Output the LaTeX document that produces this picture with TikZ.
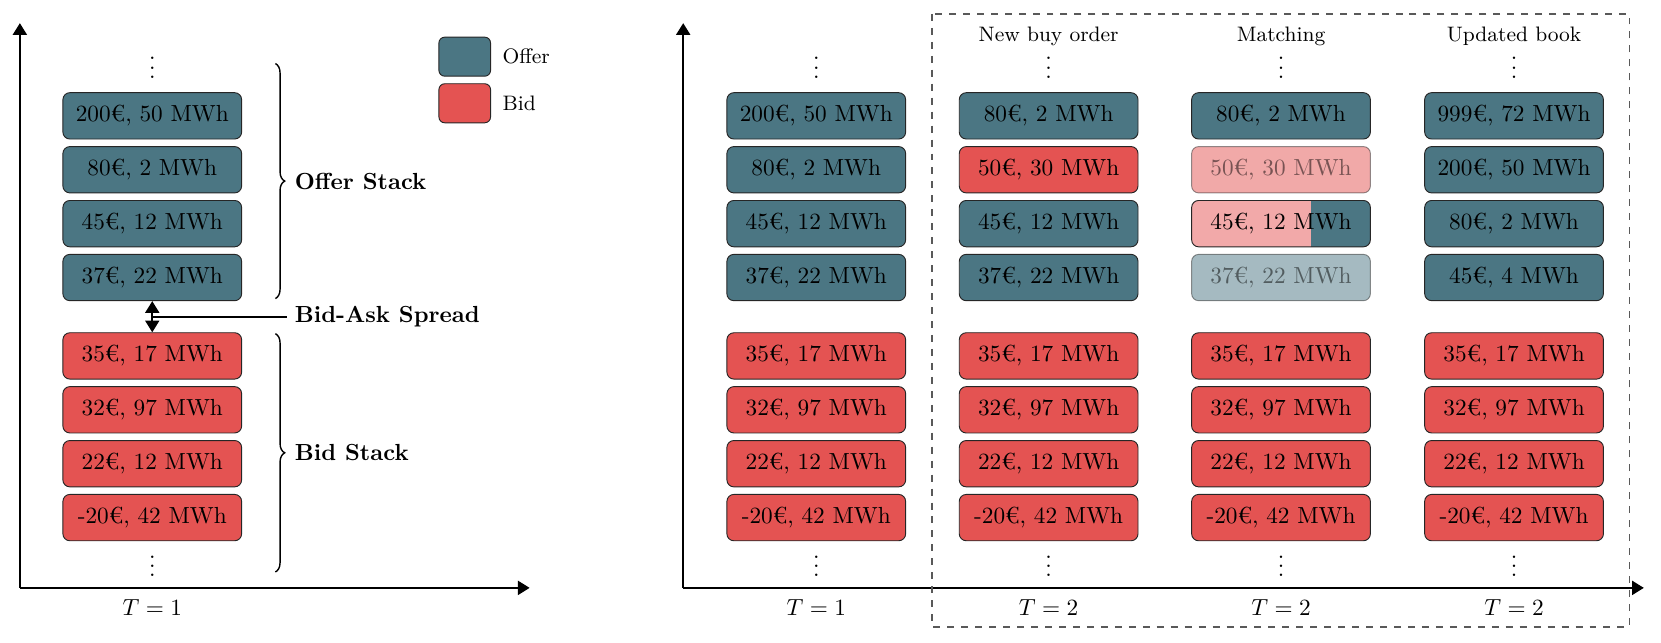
\documentclass[tikz,border=0pt]{standalone}
\usepackage{fontspec}
\usepackage{xcolor}
\usepackage{tikz}
\usetikzlibrary{arrows,arrows.meta,shapes,decorations.pathreplacing,positioning,calc}

\definecolor{offercol}{HTML}{4B7683}
\definecolor{bidcol}{HTML}{E45352}

\begin{document}
\begin{tikzpicture}
% STYLES
\tikzset{%
    order/.style={%
rectangle,
rounded corners=3pt,
draw=black!85,
inner sep=0pt,
minimum width=2.7cm,
minimum height=0.7cm
                          },
    offer/.style={order, fill=offercol},
    bid/.style={order, fill=bidcol},
    faded/.style={opacity=0.5},
    dots/.style={inner sep=0pt},
    header/.style={font=\small},
    stacklabel/.style={anchor=west, font=\bfseries},
    stackbrace/.style={decorate, decoration={brace, amplitude=4pt}, semithick},
    tip/.tip={Triangle[length=5pt, width=6pt]},
    axisline/.style={thick, -tip},
    legendbox/.style={order, rounded corners=2.5pt, minimum width=0.78cm, minimum height=0.59cm}
             }
\useasboundingbox (0,0) rectangle (25.09,-9.70);

% Left axes
\coordinate (o1) at (0.3,-8.88);
\coordinate (ytop1) at (0.3,-0.35);
\coordinate (xend1) at (8.0,-8.88);
\draw[axisline] (o1) -- (ytop1);
\draw[axisline] (o1) -- (xend1);

% Left book
\node [offer] (a1) at (2.3,-1.75) {200€, 50 MWh};
\node [offer, below=1mm of a1] (a2) {80€, 2 MWh};
\node [offer, below=1mm of a2] (a3) {45€, 12 MWh};
\node [offer, below=1mm of a3] (a4) {37€, 22 MWh};
\node [dots, above=2mm of a1] (ad) {$\vdots$};
\node [bid, below=4.7mm of a4] (b1) {35€, 17 MWh};
\node [bid, below=1mm of b1] (b2) {32€, 97 MWh};
\node [bid, below=1mm of b2] (b3) {22€, 12 MWh};
\node [bid, below=1mm of b3] (b4) {-20€, 42 MWh};
\node [dots, below=0mm of b4] (bd) {$\vdots$};
\node (t1) at (2.3,-9.17) {$T=1$};

% Stacks and spread
\draw[stackbrace] (4.16,-0.96) -- (4.16,-4.51);
\draw[stackbrace] (4.16,-5.04) -- (4.16,-8.64);
\node [stacklabel] (offerstack) at (4.33,-2.74) {Offer Stack};
\node [stacklabel] (bidstack) at (4.33,-6.84) {Bid Stack};
\coordinate (sp) at ($(a4.south)!0.5!(b1.north)$);
\node [stacklabel] (spread) at (sp -| 4.33,0) {Bid-Ask Spread};
\draw[tip-tip, thick] (a4.south) -- (b1.north);
\draw[thick] (sp) -- (spread.west);

% Legend
\node [legendbox, fill=offercol] (lo) at (7.02,-0.856) {};
\node [legendbox, fill=bidcol] (lb) at (7.02,-1.56) {};
\node [right=0.5mm of lo, font=\small] (loffer) {Offer};
\node [right=0.5mm of lb, font=\small] (lbid) {Bid};

% Right axes
\coordinate (o2) at (10.32,-8.88);
\coordinate (ytop2) at (10.32,-0.35);
\coordinate (xend2) at (24.83,-8.88);
\draw[axisline] (o2) -- (ytop2);
\draw[axisline] (o2) -- (xend2);

% Book at T=1
\node [offer] (r1) at (12.33,-1.75) {200€, 50 MWh};
\node [offer, below=1mm of r1] (r2) {80€, 2 MWh};
\node [offer, below=1mm of r2] (r3) {45€, 12 MWh};
\node [offer, below=1mm of r3] (r4) {37€, 22 MWh};
\node [dots, above=2mm of r1] (rd) {$\vdots$};
\node [bid, below=4.7mm of r4] (rb1) {35€, 17 MWh};
\node [bid, below=1mm of rb1] (rb2) {32€, 97 MWh};
\node [bid, below=1mm of rb2] (rb3) {22€, 12 MWh};
\node [bid, below=1mm of rb3] (rb4) {-20€, 42 MWh};
\node [dots, below=0mm of rb4] (rbd) {$\vdots$};
\node (t2) at (12.33,-9.17) {$T=1$};

% New buy order
\node [header] (hn) at (15.84,-0.55) {New buy order};
\node [offer] (n1) at (15.84,-1.75) {80€, 2 MWh};
\node [bid, below=1mm of n1] (n2) {50€, 30 MWh};
\node [offer, below=1mm of n2] (n3) {45€, 12 MWh};
\node [offer, below=1mm of n3] (n4) {37€, 22 MWh};
\node [dots, above=2mm of n1] (nd) {$\vdots$};
\node [bid, below=4.7mm of n4] (nb1) {35€, 17 MWh};
\node [bid, below=1mm of nb1] (nb2) {32€, 97 MWh};
\node [bid, below=1mm of nb2] (nb3) {22€, 12 MWh};
\node [bid, below=1mm of nb3] (nb4) {-20€, 42 MWh};
\node [dots, below=0mm of nb4] (nbd) {$\vdots$};
\node (t3) at (15.84,-9.17) {$T=2$};

% Matching
\node [header] (hm) at (19.35,-0.55) {Matching};
\node [offer] (m1) at (19.35,-1.75) {80€, 2 MWh};
\node [bid, faded, below=1mm of m1] (m2) {50€, 30 MWh};
\node [order, fill=bidcol!50, below=1mm of m2,
       path picture={\fill[offercol, sharp corners] ([xshift=-0.9cm]path picture bounding box.north east) rectangle (path picture bounding box.south east);}] (m3) {45€, 12 MWh};
\node [offer, faded, below=1mm of m3] (m4) {37€, 22 MWh};
\node [dots, above=2mm of m1] (md) {$\vdots$};
\node [bid, below=4.7mm of m4] (mb1) {35€, 17 MWh};
\node [bid, below=1mm of mb1] (mb2) {32€, 97 MWh};
\node [bid, below=1mm of mb2] (mb3) {22€, 12 MWh};
\node [bid, below=1mm of mb3] (mb4) {-20€, 42 MWh};
\node [dots, below=0mm of mb4] (mbd) {$\vdots$};
\node (t4) at (19.35,-9.17) {$T=2$};

% Updated book
\node [header] (hu) at (22.87,-0.55) {Updated book};
\node [offer] (u1) at (22.87,-1.75) {999€, 72 MWh};
\node [offer, below=1mm of u1] (u2) {200€, 50 MWh};
\node [offer, below=1mm of u2] (u3) {80€, 2 MWh};
\node [offer, below=1mm of u3] (u4) {45€, 4 MWh};
\node [dots, above=2mm of u1] (ud) {$\vdots$};
\node [bid, below=4.7mm of u4] (ub1) {35€, 17 MWh};
\node [bid, below=1mm of ub1] (ub2) {32€, 97 MWh};
\node [bid, below=1mm of ub2] (ub3) {22€, 12 MWh};
\node [bid, below=1mm of ub3] (ub4) {-20€, 42 MWh};
\node [dots, below=0mm of ub4] (ubd) {$\vdots$};
\node (t5) at (22.87,-9.17) {$T=2$};

% Frame round T=2
\draw[dashed, black!65, semithick] (14.08,-0.21) rectangle (24.61,-9.47);
\end{tikzpicture}
\end{document}
